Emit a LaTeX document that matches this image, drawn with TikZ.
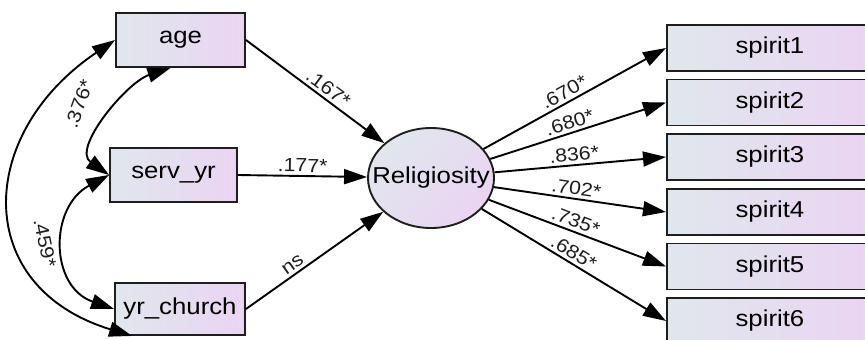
\documentclass[tikz,border=0pt]{standalone}
\usepackage{fontspec}
\setmainfont{Liberation Sans}[FakeStretch=1.12]
\usetikzlibrary{arrows.meta,shapes.geometric}
\definecolor{fillL}{RGB}{224,231,236}
\definecolor{fillR}{RGB}{234,212,243}
\definecolor{edgecol}{RGB}{30,30,30}

\begin{document}
\begin{tikzpicture}[x=1pt,y=1pt,line width=1.9pt,
  obs/.style={draw=edgecol, line width=1.9pt, left color=fillL, right color=fillR, minimum height=54pt, inner sep=0pt, font=\fontsize{23}{26}\selectfont},
  ind/.style={obs, minimum width=206pt, minimum height=46pt, anchor=west},
  lat/.style={ellipse, draw=edgecol, line width=1.9pt, top color=fillL, bottom color=fillR, shading angle=45, inner sep=0pt, font=\fontsize{23}{26}\selectfont},
  path/.style={-{Triangle[length=23pt,width=15pt]}},
  cov/.style={{Triangle[length=23pt,width=15pt]}-{Triangle[length=23pt,width=15pt]}},
  coef/.style={font=\fontsize{19}{21}\selectfont, text=edgecol, inner sep=3pt},
  lbl/.style={coef, sloped, above}]
\useasboundingbox (0,0) rectangle (865,-340);
\clip (0,0) rectangle (865,-340);

% observed predictors
\node[obs, minimum width=129pt] (age) at (180.5,-40) {age};
\node[obs, minimum width=127pt] (serv) at (173.5,-175) {serv\_yr};
\node[obs, minimum width=130pt, minimum height=52pt] (church) at (180,-309) {yr\_church};

% latent factor and its indicators
\node[lat, minimum width=126pt, minimum height=100pt] (rel) at (431,-178) {\makebox[0pt]{Religiosity}};
\foreach \i/\y in {1/48,2/102.5,3/157,4/212,5/266.5,6/321}
  \node[ind] (sp\i) at (666,-\y) {spirit\i};

% paths
\draw[path] (age.east) -- node[lbl, pos=0.55] {.167*} (rel);
\draw[path] (serv.east) -- node[lbl] {.177*} (rel);
\draw[path] (church.east) -- node[lbl, pos=0.38] {ns} (rel);
\foreach \i/\v in {1/.670*,2/.680*,3/.836*,4/.702*,5/.735*,6/.685*}
  \draw[path] (rel) -- node[lbl, pos=0.47] {\v} (sp\i.west);

% covariances
\draw[cov] ([xshift=-10pt]age.south) to[out=198, in=145, looseness=0.95] (serv.west);
\draw[cov] (serv.west) to[out=208, in=161, looseness=1.3] (church.west);
\draw[cov] (age.west) to[out=214, in=163, looseness=1.45] ([xshift=18pt]church.south west);
\node[coef, rotate=70] (c1) at (79,-104) {.376*};
\node[coef, rotate=-78] (c2) at (45,-243) {.459*};
\end{tikzpicture}
\end{document}
